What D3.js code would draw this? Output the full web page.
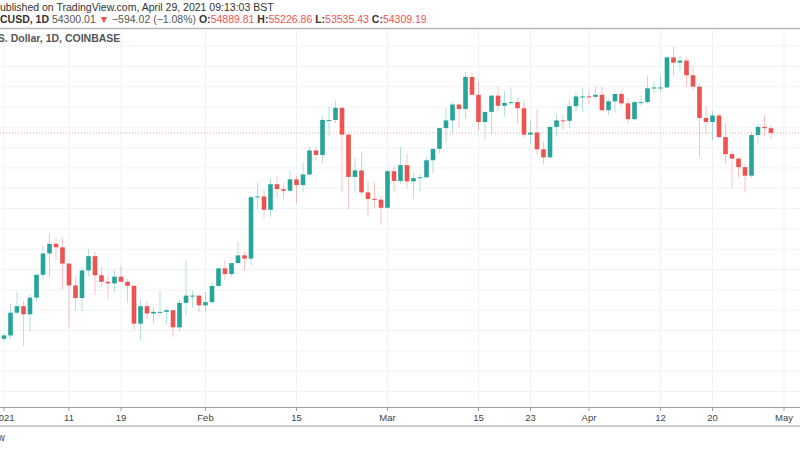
<!DOCTYPE html>
<html>
<head>
<meta charset="utf-8">
<script src="https://cdn.jsdelivr.net/npm/d3@7"></script>
<style>
  body { margin: 0; background: #fff; }
  svg { display: block; font-family: "Liberation Sans", Arial, sans-serif; }
</style>
</head>
<body>
<svg id="chart" width="800" height="450"></svg>
<script>
// daily BTCUSD candles, Jan 1 .. Apr 29 2021
const startDate = new Date(2021, 0, 1);
const opens = [28990,29400,32200,33000,32000,34050,36860,39480,40670,40240,38240,35550,34000,37400,39150,36800,36000,35800,36630,36000,35500,30850,33000,32100,32300,32300,32500,30400,33400,34300,34300,
  33100,33500,35500,37650,36950,38300,39250,38850,46400,46500,44850,48000,47400,47200,48600,47900,49200,52150,51600,55900,55900,57400,54100,48900,49700,47000,46200,46100,
  45100,49600,48400,50350,48350,48750,48850,50950,52350,54900,55850,57800,57250,61200,59000,55650,56900,58900,57650,58000,58100,57350,54100,54350,52300,51300,55050,55850,55800,57600,58800,
  58800,58750,59000,57100,58200,59100,57950,56000,58100,58100,59800,59900,59900,63600,62950,63200,61400,60000,56150,55650,56450,53800,51700,51150,50100,49050,54050,55050,54890];
const highs = [29680,33300,34800,33600,34500,36900,40400,41950,41400,41400,38300,36600,37850,40000,39700,37900,36800,37400,37900,36400,35600,33800,33500,32900,34900,32800,32600,33800,38600,34900,34300,
  34700,35900,37700,38700,38300,40900,39700,46700,48200,47300,48700,48900,48100,49700,49000,50600,52600,52500,56300,57500,58300,57500,54200,51300,52000,48400,48300,46600,
  49800,50200,52600,51700,49400,49200,51400,52400,54900,57400,58100,58000,61800,61700,60600,56900,58900,60100,59500,59900,58600,58400,55800,57200,53200,55100,56600,56600,58400,59400,59800,
  59500,60000,60000,58500,59200,59500,58600,58200,58900,61300,60700,61200,63800,64900,63800,63600,62600,60400,57600,57000,56800,55500,52100,51200,50500,54400,55500,56500,55227];
const lows = [28700,28950,32000,28100,29900,33500,36300,36600,38700,35000,30400,32500,32400,36700,34400,35400,33900,34800,35900,33400,30100,28800,31400,30900,31900,30800,29200,29900,31900,32800,32300,
  32300,33400,35400,36200,36600,38200,37400,38000,45000,43800,44000,46300,46200,47000,45600,47000,48900,50900,50600,54000,55500,47000,44900,47000,46700,44100,45000,43000,
  45000,47000,48100,47500,46300,47100,48900,49300,51800,53100,54300,55000,56100,59000,54600,53400,54200,57000,56300,57800,55500,53700,53000,51700,50400,51300,53900,54700,54900,57000,56900,
  57900,58500,56900,56500,56800,57600,55500,55800,57700,57900,59100,59400,59800,61300,62000,60000,59600,51300,54200,53400,53600,50500,47500,48800,47000,48800,53000,53900,53535];
const closes = opens.slice(1).concat([54309]);

const tickDates = [[0,1,"2021"],[0,11,"11"],[0,19,"19"],[1,1,"Feb"],[1,15,"15"],[2,1,"Mar"],[2,15,"15"],[2,23,"23"],[3,1,"Apr"],[3,12,"12"],[3,20,"20"],[4,1,"May"]];
const priceGrid = d3.range(20000, 67500, 2500);
const lastPrice = 54300;

const up = "#26a69a", down = "#ef5350";
const svg = d3.select("#chart");
const plotTop = 30, plotBottom = 407;

const x = d3.scaleTime().domain([startDate, new Date(2021, 4, 1)]).range([4, 784]);
const y = d3.scaleLinear().domain([20598, 66969]).range([plotBottom, plotTop]);

const candles = opens.map((o, i) => ({
  date: d3.timeDay.offset(startDate, i), o, h: highs[i], l: lows[i], c: closes[i]
}));

// grid
const grid = svg.append("g");
grid.selectAll(".hg").data(priceGrid.filter(p => y(p) > plotTop && y(p) < plotBottom))
  .join("line").attr("x1", 0).attr("x2", 800).attr("y1", d => y(d)).attr("y2", d => y(d))
  .attr("stroke", "#f0f3f5");
grid.selectAll(".vg").data(tickDates).join("line")
  .attr("x1", d => x(new Date(2021, d[0], d[1]))).attr("x2", d => x(new Date(2021, d[0], d[1])))
  .attr("y1", plotTop).attr("y2", plotBottom).attr("stroke", "#edf2f5");

// last price line
svg.append("line").attr("x1", 0).attr("x2", 800).attr("y1", y(lastPrice)).attr("y2", y(lastPrice))
  .attr("stroke", down).attr("stroke-opacity", 0.5).attr("stroke-dasharray", "1,2");

// candles
const cg = svg.append("g").selectAll("g").data(candles).join("g");
cg.append("line")
  .attr("x1", d => x(d.date)).attr("x2", d => x(d.date))
  .attr("y1", d => y(d.h)).attr("y2", d => y(d.l))
  .attr("stroke", d => d.c >= d.o ? up : down).attr("stroke-opacity", 0.35).attr("stroke-width", 1);
cg.append("rect")
  .attr("x", d => x(d.date) - 2.3).attr("width", 4.6)
  .attr("y", d => y(Math.max(d.o, d.c)))
  .attr("height", d => Math.max(1, Math.abs(y(d.o) - y(d.c))))
  .attr("fill", d => d.c >= d.o ? up : down);

// header
svg.append("rect").attr("x", 0).attr("y", 0).attr("width", 800).attr("height", 28).attr("fill", "#fff");
svg.append("line").attr("x1", 0).attr("x2", 800).attr("y1", 28.5).attr("y2", 28.5).attr("stroke", "#b8b8b8").attr("stroke-width", 1.5);
svg.append("text").attr("x", -7).attr("y", 11).attr("font-size", 10.5).attr("fill", "#333")
  .text("Published on TradingView.com, April 29, 2021 09:13:03 BST");
const t2 = svg.append("text").attr("x", -14).attr("y", 23).attr("font-size", 10.5).attr("fill", "#555");
t2.append("tspan").attr("font-weight", "bold").attr("fill", "#333").text("BTCUSD, 1D ");
t2.append("tspan").text("54300.01 ");
t2.append("tspan").attr("fill", down).text("▼ ");
t2.append("tspan").text("−594.02 (−1.08%) ");
[["O:", "54889.81"], ["H:", "55226.86"], ["L:", "53535.43"], ["C:", "54309.19"]].forEach(([k, v]) => {
  t2.append("tspan").attr("font-weight", "bold").attr("fill", "#333").text(k);
  t2.append("tspan").attr("fill", down).text(v + " ");
});
svg.append("text").attr("x", -57).attr("y", 42).attr("font-size", 10.5).attr("font-weight", "bold").attr("fill", "#555")
  .text("Bitcoin / U.S. Dollar, 1D, COINBASE");

// x axis
svg.append("rect").attr("x", 0).attr("y", plotBottom).attr("width", 800).attr("height", 43).attr("fill", "#fff");
svg.append("line").attr("x1", 0).attr("x2", 800).attr("y1", plotBottom + 0.5).attr("y2", plotBottom + 0.5).attr("stroke", "#9e9e9e").attr("stroke-width", 1.2);
const ax = svg.append("g");
ax.selectAll("line").data(tickDates).join("line")
  .attr("x1", d => x(new Date(2021, d[0], d[1]))).attr("x2", d => x(new Date(2021, d[0], d[1])))
  .attr("y1", plotBottom).attr("y2", plotBottom + 4).attr("stroke", "#9e9e9e");
ax.selectAll("text").data(tickDates).join("text")
  .attr("x", d => x(new Date(2021, d[0], d[1]))).attr("y", plotBottom + 14)
  .attr("text-anchor", "middle").attr("font-size", 9.5).attr("fill", "#444")
  .attr("font-family", "'Liberation Sans Narrow', 'Liberation Sans', sans-serif")
  .text(d => d[2]);
svg.append("line").attr("x1", 0).attr("x2", 800).attr("y1", 426).attr("y2", 426).attr("stroke", "#9e9e9e").attr("stroke-width", 1.2);
svg.append("text").attr("x", -50).attr("y", 441).attr("font-size", 10).attr("fill", "#444").text("TradingView");
</script>
</body>
</html>
